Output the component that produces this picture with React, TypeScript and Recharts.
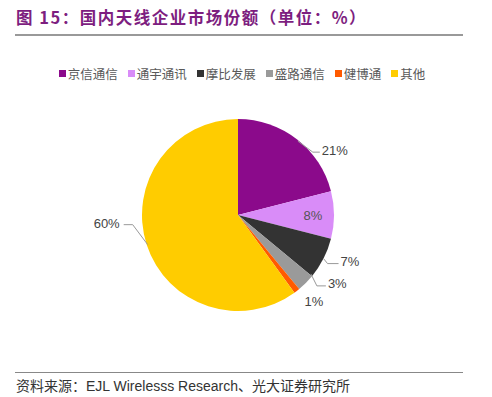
import { PieChart, Pie, Cell } from "recharts";

const names = ["京信通信", "通宇通讯", "摩比发展", "盛路通信", "健博通", "其他"];
const shares = [21, 8, 7, 3, 1, 60];
const colors = ["#8B0A8B", "#D98CF8", "#333333", "#9A9A9A", "#FF5A00", "#FFCC00"];

const data = names.map((name, i) => ({ name, value: shares[i] }));

const RAD = Math.PI / 180;
const labelFont = "'Liberation Sans', Arial, sans-serif";

// leader-line layout relative to the slice's outer edge point: [start, elbow, end, text]
const leader: Record<number, number[][]> = {
  0: [[1, 2], [16, 13], [23, 13], [25, 11]],
  2: [[0, 0], [4, 5], [15, 5], [17, 3]],
  3: [[5, -9], [11, 3], [20, 3], [22, 1]],
  5: [[1, 0], [-14, -20], [-23, -20], [-27, -21]],
};

function renderLabel(props: any) {
  const { cx, cy, midAngle, outerRadius, index, value } = props;
  const cos = Math.cos(-midAngle * RAD);
  const sin = Math.sin(-midAngle * RAD);
  const txt = `${value}%`;
  const px = cx + outerRadius * cos;
  const py = cy + outerRadius * sin;
  if (index === 1) {
    // inside label
    const r = outerRadius * 0.78;
    return (
      <text x={cx + r * cos} y={cy + r * sin} fill="#555" fontSize={13} textAnchor="middle" dominantBaseline="central"
        fontFamily={labelFont}>
        {txt}
      </text>
    );
  }
  if (index === 4) {
    return (
      <text x={px + 17} y={py + 11} fill="#444" fontSize={13} textAnchor="middle" dominantBaseline="central"
        fontFamily={labelFont}>
        {txt}
      </text>
    );
  }
  const [s, m, e, t] = leader[index];
  const right = t[0] > 0;
  return (
    <g>
      <polyline points={`${px + s[0]},${py + s[1]} ${px + m[0]},${py + m[1]} ${px + e[0]},${py + e[1]}`}
        fill="none" stroke="#999" strokeWidth={1} />
      <text x={px + t[0]} y={py + t[1]} fill="#444" fontSize={13} textAnchor={right ? "start" : "end"}
        dominantBaseline="central" fontFamily={labelFont}>
        {txt}
      </text>
    </g>
  );
}

export default function App() {
  return (
    <div style={{ position: "absolute", left: 0, top: 0, width: 492, height: 397, background: "#fff",
      fontFamily: "'Noto Sans CJK SC', sans-serif" }}>
      <div style={{ position: "absolute", left: 16, top: 5, fontSize: 16.5, fontWeight: 700, color: "#7D1E80",
        letterSpacing: 1.5, whiteSpace: "nowrap" }}>
        图 15：国内天线企业市场份额（单位：%）
      </div>
      <div style={{ position: "absolute", left: 15, top: 34, width: 448, height: 2, background: "#999" }} />
      <div style={{ position: "absolute", left: 0, top: 64, width: 484, display: "flex", justifyContent: "center",
        gap: 10, fontSize: 12.5, color: "#595959" }}>
        {names.map((n, i) => (
          <span key={n} style={{ display: "flex", alignItems: "center" }}>
            <span style={{ width: 7, height: 7, background: colors[i], display: "inline-block", marginRight: 2 }} />
            {n}
          </span>
        ))}
      </div>
      <PieChart width={492} height={290} margin={{ top: 0, right: 0, bottom: 0, left: 0 }}
        style={{ position: "absolute", left: 0, top: 80 }}>
        <Pie data={data} dataKey="value" nameKey="name" cx={238} cy={135} outerRadius={96}
          startAngle={90} endAngle={-270} stroke="none" label={renderLabel} labelLine={false}
          isAnimationActive={false}>
          {data.map((d, i) => (
            <Cell key={d.name} fill={colors[i]} />
          ))}
        </Pie>
      </PieChart>
      <div style={{ position: "absolute", left: 15, top: 372, width: 448, height: 1, background: "#888" }} />
      <div style={{ position: "absolute", left: 16, top: 375, fontSize: 14, color: "#333", whiteSpace: "nowrap" }}>
        资料来源：<span style={{ fontFamily: labelFont }}>EJL Wirelesss Research</span>、光大证券研究所
      </div>
    </div>
  );
}
